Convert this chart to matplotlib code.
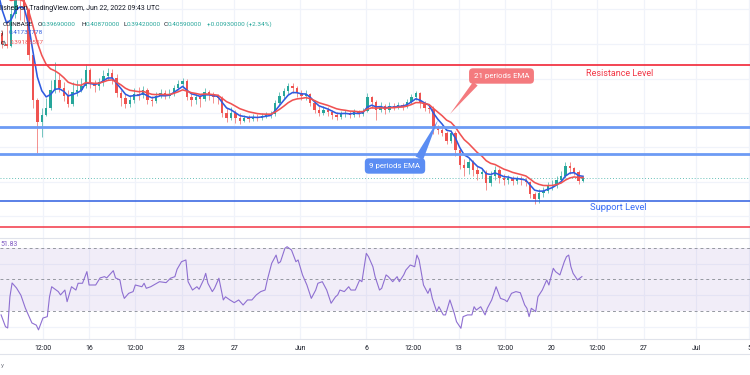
import numpy as np
import pandas as pd
import matplotlib
matplotlib.use("Agg")
import matplotlib.pyplot as plt
import matplotlib.dates as mdates
from matplotlib.lines import Line2D

# ---------------- data ----------------
candle_start = "2022-05-08 10:00"      # 8-hour candles (first three lie left of the view)
first_open = 1.000
close = [0.993, 0.939, 0.796,
         0.766, 0.761, 0.847, 0.899, 0.885, 0.858, 0.737, 0.615, 0.556, 0.575,
         0.594, 0.642, 0.669, 0.648, 0.626, 0.604, 0.637, 0.642, 0.653, 0.696,
         0.658, 0.653, 0.664, 0.680, 0.688, 0.675, 0.634, 0.621, 0.604, 0.615,
         0.631, 0.629, 0.642, 0.615, 0.612, 0.626, 0.634, 0.626, 0.631, 0.648,
         0.658, 0.667, 0.623, 0.615, 0.623, 0.618, 0.637, 0.629, 0.623, 0.621,
         0.580, 0.567, 0.580, 0.567, 0.559, 0.567, 0.564, 0.569, 0.567, 0.572,
         0.575, 0.577, 0.607, 0.626, 0.640, 0.653, 0.648, 0.634, 0.626, 0.631,
         0.607, 0.588, 0.580, 0.588, 0.583, 0.575, 0.569, 0.577, 0.580, 0.575,
         0.583, 0.577, 0.586, 0.623, 0.610, 0.588, 0.599, 0.588, 0.599, 0.596,
         0.602, 0.599, 0.610, 0.623, 0.634, 0.607, 0.594, 0.591, 0.542, 0.534,
         0.526, 0.505, 0.526, 0.480, 0.440, 0.432, 0.448, 0.426, 0.415, 0.421,
         0.391, 0.410, 0.426, 0.405, 0.399, 0.405, 0.397, 0.402, 0.399, 0.394,
         0.361, 0.348, 0.364, 0.370, 0.383, 0.386, 0.399, 0.410, 0.437, 0.432,
         0.421, 0.3969, 0.4059]
high = [1.020, 1.007, 0.945,
        0.804, 0.831, 0.864, 0.926, 0.912, 0.893, 0.864, 0.745, 0.621, 0.594,
        0.621, 0.669, 0.718, 0.685, 0.664, 0.642, 0.664, 0.669, 0.675, 0.712,
        0.702, 0.669, 0.675, 0.696, 0.702, 0.699, 0.685, 0.642, 0.631, 0.629,
        0.648, 0.650, 0.653, 0.648, 0.626, 0.637, 0.645, 0.642, 0.645, 0.656,
        0.669, 0.675, 0.672, 0.637, 0.634, 0.631, 0.648, 0.642, 0.637, 0.631,
        0.626, 0.594, 0.596, 0.588, 0.580, 0.575, 0.575, 0.577, 0.577, 0.580,
        0.583, 0.586, 0.615, 0.637, 0.648, 0.661, 0.661, 0.653, 0.642, 0.642,
        0.634, 0.615, 0.599, 0.599, 0.596, 0.588, 0.583, 0.586, 0.588, 0.586,
        0.591, 0.588, 0.594, 0.634, 0.626, 0.615, 0.610, 0.604, 0.610, 0.607,
        0.610, 0.607, 0.618, 0.631, 0.640, 0.637, 0.612, 0.602, 0.599, 0.548,
        0.545, 0.532, 0.534, 0.532, 0.486, 0.456, 0.459, 0.453, 0.437, 0.432,
        0.426, 0.424, 0.437, 0.432, 0.415, 0.413, 0.410, 0.410, 0.410, 0.405,
        0.397, 0.367, 0.375, 0.380, 0.394, 0.399, 0.410, 0.424, 0.448, 0.448,
        0.434, 0.426, 0.4087]
low = [0.966, 0.926, 0.788,
       0.756, 0.756, 0.758, 0.837, 0.831, 0.826, 0.723, 0.594, 0.472, 0.515,
       0.572, 0.588, 0.634, 0.637, 0.612, 0.596, 0.599, 0.626, 0.637, 0.648,
       0.648, 0.637, 0.642, 0.653, 0.669, 0.658, 0.623, 0.599, 0.594, 0.596,
       0.607, 0.615, 0.621, 0.604, 0.599, 0.607, 0.621, 0.618, 0.621, 0.626,
       0.642, 0.648, 0.615, 0.599, 0.604, 0.596, 0.612, 0.615, 0.607, 0.604,
       0.569, 0.556, 0.561, 0.553, 0.550, 0.556, 0.556, 0.559, 0.559, 0.561,
       0.567, 0.567, 0.572, 0.602, 0.618, 0.631, 0.634, 0.623, 0.615, 0.615,
       0.599, 0.580, 0.572, 0.575, 0.572, 0.564, 0.561, 0.564, 0.569, 0.567,
       0.569, 0.569, 0.572, 0.583, 0.594, 0.561, 0.583, 0.577, 0.583, 0.588,
       0.591, 0.588, 0.594, 0.604, 0.615, 0.594, 0.586, 0.580, 0.523, 0.523,
       0.518, 0.496, 0.499, 0.464, 0.429, 0.410, 0.415, 0.410, 0.399, 0.405,
       0.372, 0.383, 0.399, 0.391, 0.386, 0.388, 0.386, 0.388, 0.386, 0.383,
       0.351, 0.334, 0.337, 0.353, 0.364, 0.372, 0.378, 0.394, 0.405, 0.415,
       0.413, 0.388, 0.3942]

ema_periods = [9, 21]                 # on the 4-hour chart

rsi_start = "2022-05-09 08:00"        # 4-hour bars
rsi_bar = [0, 2, 3, 4, 5, 7, 9, 11, 14, 16, 17, 19, 21, 22, 23, 26, 27, 29, 30, 32,
           34, 35, 37, 39, 40, 43, 45, 47, 48, 51, 52, 54, 55, 56, 58, 60, 61, 64, 65, 66,
           68, 70, 72, 75, 77, 79, 80, 82, 84, 85, 87, 89, 90, 92, 93, 94, 96, 97, 99, 101,
           102, 104, 106, 108, 110, 112, 114, 116, 118, 120, 121, 123, 125, 126, 127, 129, 130, 132, 134, 135,
           137, 139, 141, 143, 144, 146, 148, 150, 152, 153, 154, 156, 158, 159, 161, 163, 164, 166, 167, 169,
           170, 172, 173, 175, 176, 178, 180, 181, 183, 184, 186, 188, 189, 190, 192, 194, 195, 196, 198, 199,
           201, 202, 204, 206, 207, 209, 210, 212, 214, 215, 216, 218, 220, 221, 223, 225, 227, 229, 230, 232,
           234, 236, 238, 239, 240, 241, 243, 244, 246, 248, 249, 251, 252, 254, 256, 257, 258, 259, 260, 262,
           264]
rsi_value = [27.5, 20, 19.2, 39, 47.8, 44.6, 40, 31.9, 22.4, 21, 18, 25.5, 26.4, 39, 45.4, 42.3, 40.2, 43.3, 35.9, 45.4,
             43.3, 47.6, 47.6, 55, 46.5, 46.5, 51, 51.8, 51, 55.6, 51, 49.7, 42.3, 38, 41.2, 42.3, 46.5, 45.4, 47.6, 44.4,
             45.4, 47, 48.6, 48, 50.8, 51.8, 56.5, 61.3, 62.4, 48.6, 43.3, 45.4, 43.8, 49.7, 53.9, 47.6, 42.3, 44.4, 50.8, 37,
             39, 37, 35.3, 37, 33.8, 37, 37, 40.2, 42.3, 43.3, 49.7, 60.3, 65.5, 60.3, 61.3, 69.8, 70.8, 68.7, 61.3, 62.4,
             52.9, 46.5, 38, 43.3, 47.6, 48.6, 43.3, 34.9, 39, 40.2, 43.3, 42.3, 45.4, 43.3, 43.3, 49.7, 48.6, 66.6, 64.5, 58.1,
             51.8, 43.3, 44.4, 52.9, 51.8, 48.6, 51.8, 48.6, 52.9, 56, 59.2, 58.1, 65.5, 62.4, 46.5, 41.2, 44.4, 38, 29.6, 32.7,
             27.5, 27.5, 37, 28.5, 23.2, 19, 26.4, 27.5, 27.5, 32.7, 30.6, 32.7, 27.5, 31.7, 37, 45.4, 38, 37, 35.9, 41.2,
             42.3, 41.6, 33.8, 31.7, 26.4, 31.7, 29.6, 39, 43.3, 49.7, 46.5, 57.1, 55, 52.9, 61.3, 64.5, 65.5, 58.1, 53.9, 49.7,
             51.83]

tick_dates = ["2022-05-12 12:00", "2022-05-16 00:00", "2022-05-19 12:00", "2022-05-23 00:00",
              "2022-05-27 00:00", "2022-06-01 00:00", "2022-06-06 00:00", "2022-06-09 12:00",
              "2022-06-13 00:00", "2022-06-16 12:00", "2022-06-20 00:00", "2022-06-23 12:00",
              "2022-06-27 00:00", "2022-07-01 00:00", "2022-07-05 00:00"]
tick_labels = ["12:00", "16", "12:00", "23", "27", "Jun", "6", "12:00", "13", "12:00",
               "20", "12:00", "27", "Jul", "5"]

resistance = 0.710
channel_top = 0.542
channel_bottom = 0.469
support = 0.3425
lower_line = 0.272
last_price = 0.4059

header = "lished on TradingView.com, Jun 22, 2022 09:43 UTC"
ohlc = [("O", "0.39690000"), ("H", "0.40870000"), ("L", "0.39420000"), ("C", "0.40590000")]
change = "+0.00930000 (+2.34%)"
ema_fast_txt = "0.41737778"
ema_slow_txt = "0.39188557"
rsi_txt = "51.83"

# ---------------- styling ----------------
FONT = ["Roboto", "DejaVu Sans"]
UP, DOWN = "#26a69a", "#ef5350"
BLUE_EMA, RED_EMA = "#2e5be0", "#f05252"
GRID = "#f0f3fa"
DARK = "#131722"
W, H = 750, 375

fig = plt.figure(figsize=(W / 100, H / 100), dpi=100)
fig.patch.set_facecolor("white")
renderer = fig.canvas.get_renderer()


def fy(y):
    return 1 - y / H


ax = fig.add_axes([0, fy(238), 1, 238 / H])
ar = fig.add_axes([0, fy(339), 1, (339 - 238) / H])

x0 = mdates.date2num(np.datetime64("2022-05-09T06:00"))
xlim = (x0, x0 + W / 13.2)
ticks = mdates.date2num(pd.to_datetime(tick_dates, format="%Y-%m-%d %H:%M").values)
for a in (ax, ar):
    a.set_xlim(*xlim)
    a.set_xticks(ticks)
    a.grid(True, color=GRID, lw=0.9)
    a.set_axisbelow(True)
    for s in a.spines.values():
        s.set_visible(False)
    a.set_facecolor("none")
ax.set_ylim(0.2426, 0.8852)
ax.set_yticks([0.301, 0.394, 0.487, 0.580, 0.673, 0.766, 0.860])
ax.tick_params(length=0, labelbottom=False, labelleft=False)
ar.set_ylim(12.2, 76.35)
ar.set_yticks([20, 40, 60])
ar.tick_params(axis="y", length=0, labelleft=False)

# ---------------- candles ----------------
t_c = mdates.date2num(pd.date_range(candle_start, periods=len(close), freq="8h").values)
c = np.array(close)
o = np.concatenate([[first_open], c[:-1]])
cols = np.where(c >= o, UP, DOWN)
ax.vlines(t_c, low, high, colors=cols, lw=0.45, zorder=2)
ax.bar(t_c, np.maximum(np.abs(c - o), 0.002), width=0.19, bottom=np.minimum(o, c),
       color=cols, lw=0, zorder=2.1)

# EMAs (4-hour periods expressed on 8-hour candles)
cs = pd.Series(close)
for n, col in zip(ema_periods, [BLUE_EMA, RED_EMA]):
    alpha = 1 - (1 - 2 / (n + 1)) ** 2
    ax.plot(t_c, cs.ewm(alpha=alpha, adjust=False).mean(), color=col, lw=1.15, zorder=3)

# levels
ax.axhline(resistance, color="#f23645", lw=1.3, zorder=4)
ax.axhline(channel_top, color="#6d9bf4", lw=2.0, zorder=4)
ax.axhline(channel_bottom, color="#6d9bf4", lw=2.0, zorder=4)
ax.axhline(support, color="#2d5ee0", lw=1.1, zorder=4)
ax.axhline(lower_line, color="#f23645", lw=1.1, zorder=4)
ax.axhline(last_price, color="#26a69a", lw=0.7, ls=(0, (1, 2)), alpha=0.7, zorder=1.5)

# ---------------- RSI ----------------
t_r = mdates.date2num((pd.Timestamp(rsi_start) + pd.to_timedelta(np.array(rsi_bar) * 4, unit="h")).values)
ar.axhspan(30, 70, color="#7e57c2", alpha=0.1, lw=0)
for lvl in (70, 50, 30):
    ar.axhline(lvl, color="#9598a1", lw=0.7, ls=(0, (3, 3)))
ar.plot(t_r, rsi_value, color="#8e6fd1", lw=0.8)


# ---------------- text helpers ----------------
def fsize(s, w):
    t = fig.text(0, 0, s, fontsize=10, family=FONT)
    bw = t.get_window_extent(renderer).width
    t.remove()
    return 10 * w / bw


def put(s, x, y, size, color, ha="left", **kw):
    return fig.text(x / W, fy(y), s, fontsize=size, color=color, ha=ha, va="center",
                    family=FONT, **kw)


def put_seq(x, y, size, parts):
    for s, col in parts:
        t = put(s, x, y, size, col)
        x += t.get_window_extent(renderer).width


# time axis labels
tsz = fsize("12:00", 17)
ar.set_xticks(ticks, tick_labels)
ar.tick_params(axis="x", length=0, pad=4.0, labelsize=tsz, labelcolor=DARK)
for lab in ar.get_xticklabels():
    lab.set_family(FONT)

# separators
for yy in (238, 339, 354):
    fig.add_artist(Line2D([0, 1], [fy(yy)] * 2, color="#e0e3eb", lw=0.8))

# header
put(header, 0.5, 8, fsize(header, 160), DARK)
vsz = fsize("O0.39690000", 38.3)
put("COINBASE", 3, 24, vsz, DARK)
for (lab, val), xx in zip(ohlc, [37.7, 81, 123, 164]):
    put_seq(xx, 24, vsz, [(lab, DARK), (val, UP)])
put(change, 207, 24, vsz, UP)
put(")", 0.5, 33, vsz, DARK)
put(ema_fast_txt, 8.3, 33, vsz, BLUE_EMA)
put("0)", 0.5, 43, vsz, DARK)
put(ema_slow_txt, 9.3, 43, vsz, RED_EMA)
put(rsi_txt, 0.5, 245, fsize(rsi_txt, 17), "#7e57c2")
put("y", 0.5, 365, vsz, "#787b86")

# level labels
put("Resistance Level", 586, 73, fsize("Resistance Level", 67), "#f23645")
put("Support Level", 590, 207, fsize("Support Level", 57), "#3b6ef5")


# callouts
def px2data(x, y):
    return ax.transData.inverted().transform((x, H - y))


csz = fsize("21 periods EMA", 55)
for txt, box, tip, rel, fc, tw in [
        ("21 periods EMA", (501.5, 76), (450, 114), (0.1, 0.0), "#f47a7e", 0.42),
        ("9 periods EMA", (395, 166), (438, 120), (0.93, 1.0), "#5b8df3", 0.6)]:
    ax.annotate(txt, xy=px2data(*tip), xytext=px2data(*box), xycoords="data",
                textcoords="data", ha="center", va="center", color="white",
                fontsize=csz, family=FONT, zorder=6,
                bbox=dict(boxstyle="round,pad=0.6,rounding_size=0.5", fc=fc, ec="none"),
                arrowprops=dict(arrowstyle=f"wedge,tail_width={tw},shrink_factor=0.5",
                                fc=fc, ec="none", relpos=rel, mutation_scale=10,
                                shrinkA=0, shrinkB=0))

fig.savefig("out.png", dpi=100, facecolor="white")
